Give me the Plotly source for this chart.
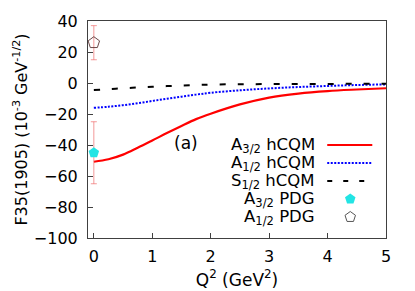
import plotly.graph_objects as go

q2 = [0.0, 0.25, 0.5, 0.75, 1.0, 1.25, 1.5, 1.75, 2.0, 2.5, 3.0, 3.5, 4.0, 4.5, 5.0]
a32_hcqm = [-50.8, -49.2, -46.2, -41.8, -37.1, -32.3, -27.7, -23.3, -19.8, -13.8, -9.4, -6.8, -5.2, -4.2, -3.4]
a12_hcqm = [-16.0, -15.3, -14.3, -13.0, -11.6, -10.2, -8.8, -7.5, -6.3, -4.7, -3.5, -2.6, -1.9, -1.3, -0.9]
s12_hcqm = [-4.5, -4.0, -3.4, -2.9, -2.4, -2.0, -1.6, -1.3, -1.0, -0.8, -0.7, -0.6, -0.6, -0.5, -0.5]

pdg_q2 = [0.0]
a32_pdg = [-45.0]
a32_pdg_err = [20.0]
a12_pdg = [26.0]
a12_pdg_err = [11.0]

legend_labels = ["A<sub>3/2</sub> hCQM", "A<sub>1/2</sub> hCQM", "S<sub>1/2</sub> hCQM",
                 "A<sub>3/2</sub> PDG", "A<sub>1/2</sub> PDG"]

FONT = "DejaVu Sans, sans-serif"
red = "#ff0000"
blue = "#0000ff"
cyan = "#22e4e4"
pent = "#6a4848"
errc = "rgba(240,110,110,0.7)"
blue_dash = "2px,1.5px"
black_dash = "6px,12px"

fig = go.Figure()
fig.add_trace(go.Scatter(x=q2, y=a32_hcqm, mode="lines", line=dict(color=red, width=2.2, shape="spline"), showlegend=False))
fig.add_trace(go.Scatter(x=q2, y=a12_hcqm, mode="lines", line=dict(color=blue, width=2, dash=blue_dash, shape="spline"), showlegend=False))
fig.add_trace(go.Scatter(x=q2, y=s12_hcqm, mode="lines", line=dict(color="black", width=2, dash=black_dash, shape="spline"), showlegend=False))
fig.add_trace(go.Scatter(x=pdg_q2, y=a32_pdg, mode="markers",
                         marker=dict(symbol="pentagon", size=11, color=cyan),
                         error_y=dict(type="data", array=a32_pdg_err, color=errc, thickness=1, width=3),
                         showlegend=False))
fig.add_trace(go.Scatter(x=pdg_q2, y=a12_pdg, mode="markers",
                         marker=dict(symbol="pentagon-open", size=12, color=pent, line=dict(width=1)),
                         error_y=dict(type="data", array=a12_pdg_err, color=errc, thickness=1, width=3),
                         showlegend=False))

# custom legend (text left, sample right) on an overlay axis in pixel-like units
rows = [145, 163, 181, 199, 217]
for lab, yy in zip(legend_labels, rows):
    fig.add_annotation(x=317, y=yy, xref="x2", yref="y2", text=lab, showarrow=False,
                       xanchor="right", yanchor="middle", font=dict(size=16.5, color="black", family=FONT))
fig.add_trace(go.Scatter(x=[327, 372], y=[rows[0]] * 2, xaxis="x2", yaxis="y2", mode="lines",
                         line=dict(color=red, width=2.2), showlegend=False))
fig.add_trace(go.Scatter(x=[327, 372], y=[rows[1]] * 2, xaxis="x2", yaxis="y2", mode="lines",
                         line=dict(color=blue, width=2, dash=blue_dash), showlegend=False))
fig.add_trace(go.Scatter(x=[327, 374], y=[rows[2]] * 2, xaxis="x2", yaxis="y2", mode="lines",
                         line=dict(color="black", width=2, dash="5px,11px"), showlegend=False))
fig.add_trace(go.Scatter(x=[350], y=[rows[3]], xaxis="x2", yaxis="y2", mode="markers",
                         marker=dict(symbol="pentagon", size=11, color=cyan), showlegend=False))
fig.add_trace(go.Scatter(x=[350], y=[rows[4]], xaxis="x2", yaxis="y2", mode="markers",
                         marker=dict(symbol="pentagon-open", size=11, color="#555555", line=dict(width=1)), showlegend=False))

fig.add_annotation(x=186, y=143, xref="x2", yref="y2", text="(a)", showarrow=False,
                   font=dict(size=17, color="black", family=FONT))

axcol = "#404040"
fig.update_layout(
    width=415, height=291,
    margin=dict(l=88, r=29, t=21, b=53),
    paper_bgcolor="white", plot_bgcolor="white",
    font=dict(family=FONT, size=16, color="black"),
    xaxis=dict(range=[-0.1, 5], tickvals=[0, 1, 2, 3, 4, 5], ticks="inside", ticklen=5,
               showline=True, linecolor=axcol, linewidth=1, mirror=True, tickcolor=axcol,
               showgrid=False, zeroline=False, automargin=False, ticklabelstandoff=4,
               tickfont=dict(size=16),
               title=dict(text="Q<sup>2</sup> (GeV<sup>2</sup>)", font=dict(size=17), standoff=8)),
    yaxis=dict(range=[-100, 40], tickvals=[-100, -80, -60, -40, -20, 0, 20, 40], ticks="inside", ticklen=5,
               showline=True, linecolor=axcol, linewidth=1, mirror=True, tickcolor=axcol,
               showgrid=False, zeroline=False, automargin=False, ticklabelstandoff=6,
               tickfont=dict(size=16),
               title=dict(text="F35(1905) (10<sup>-3</sup> GeV<sup>-1/2</sup>)", font=dict(size=16), standoff=2)),
    xaxis2=dict(overlaying="x", range=[88, 385.7], visible=False, fixedrange=True),
    yaxis2=dict(overlaying="y", range=[238, 21], visible=False, fixedrange=True),
)

fig.write_html("out.html", config={"displayModeBar": False},
               post_script="document.body.style.margin='0';document.body.style.padding='0';")
